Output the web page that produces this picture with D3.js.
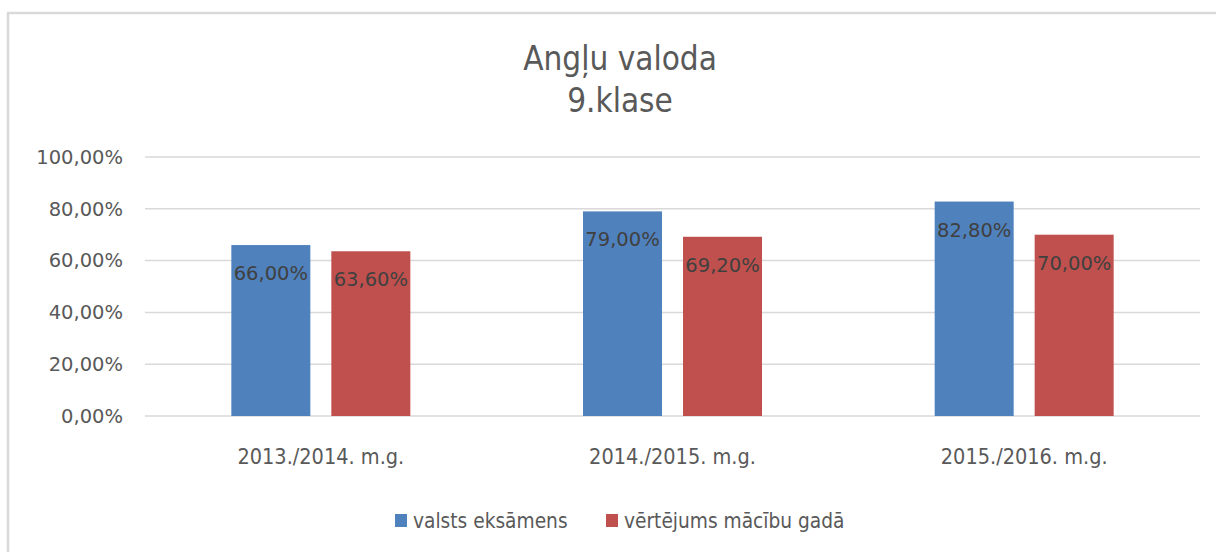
<!DOCTYPE html>
<html>
<head>
<meta charset="utf-8">
<script src="https://cdn.jsdelivr.net/npm/d3@7"></script>
<style>
  html, body { margin: 0; padding: 0; background: #fff; }
  svg { display: block; }
</style>
</head>
<body>
<svg id="chart" width="1216" height="552"></svg>
<script>
const titleLines = ["Angļu valoda", "9.klase"];
const categories = ["2013./2014. m.g.", "2014./2015. m.g.", "2015./2016. m.g."];
const seriesNames = ["valsts eksāmens", "vērtējums mācību gadā"];
const valstsEksamens = [66.0, 79.0, 82.8];
const vertejumsGada = [63.6, 69.2, 70.0];
const yTicks = [0, 20, 40, 60, 80, 100];
const colors = ["#4F81BD", "#C0504D"];

const seriesValues = [valstsEksamens, vertejumsGada];
const fmt = v => v.toFixed(2).replace(".", ",") + "%";

const svg = d3.select("#chart");

// outer chart border
svg.append("rect").attr("x", 8).attr("y", 13).attr("width", 1300).attr("height", 700)
  .attr("fill", "#fff").attr("stroke", "#d9d9d9").attr("stroke-width", 2.5);

const plot = { left: 145, right: 1200, top: 157, bottom: 416 };

const x0 = d3.scaleBand().domain(categories).range([plot.left, plot.right]).paddingInner(0).paddingOuter(0);
const x1 = d3.scaleBand().domain(seriesNames).range([-89.5, 89.5]).paddingInner(0.21).paddingOuter(0);
const y = d3.scaleLinear().domain([0, 100]).range([plot.bottom, plot.top]);

const condensed = "'DejaVu Sans Condensed', 'DejaVu Sans'";

// title
svg.append("g").selectAll("text").data(titleLines).join("text")
  .attr("x", 620).attr("y", (d, i) => 70 + i * 42)
  .attr("text-anchor", "middle")
  .attr("font-family", condensed).attr("font-stretch", "condensed")
  .attr("font-size", 33).attr("fill", "#595959")
  .text(d => d);

// gridlines
svg.append("g").selectAll("line").data(yTicks).join("line")
  .attr("x1", plot.left).attr("x2", plot.right)
  .attr("y1", d => y(d)).attr("y2", d => y(d))
  .attr("stroke", "#d9d9d9").attr("stroke-width", 1.5);

// y axis
const yAxis = svg.append("g").attr("transform", `translate(${plot.left},0)`)
  .call(d3.axisLeft(y).tickValues(yTicks).tickSize(0).tickPadding(22).tickFormat(fmt));
yAxis.select(".domain").remove();
yAxis.selectAll("text").attr("font-family", "'DejaVu Sans', Verdana").attr("font-size", 19.5)
  .attr("fill", "#595959");

// x axis labels
const xAxis = svg.append("g").attr("transform", `translate(0,${plot.bottom})`)
  .call(d3.axisBottom(x0).tickSize(0).tickPadding(33));
xAxis.select(".domain").remove();
xAxis.selectAll("text").attr("font-family", condensed)
  .attr("font-stretch", "condensed").attr("font-size", 21.5).attr("fill", "#595959");

// bars
const groups = svg.append("g").selectAll("g").data(categories).join("g")
  .attr("transform", d => `translate(${x0(d) + x0.bandwidth() / 2},0)`);

groups.each(function(cat, ci) {
  const g = d3.select(this);
  const items = seriesNames.map((s, si) => ({ s, si, v: seriesValues[si][ci] }));
  g.selectAll("rect").data(items).join("rect")
    .attr("x", d => x1(d.s)).attr("width", x1.bandwidth())
    .attr("y", d => y(d.v)).attr("height", d => y(0) - y(d.v))
    .attr("fill", d => colors[d.si]);
  g.selectAll("text").data(items).join("text")
    .attr("x", d => x1(d.s) + x1.bandwidth() / 2)
    .attr("y", d => y(d.v) + 35)
    .attr("text-anchor", "middle")
    .attr("font-family", "'DejaVu Sans', Verdana").attr("font-size", 19.5)
    .attr("fill", "#404040")
    .text(d => fmt(d.v));
});

// legend
const legendX = [395, 606];
const lg = svg.append("g").selectAll("g").data(seriesNames).join("g")
  .attr("transform", (d, i) => `translate(${legendX[i]},514)`);
lg.append("rect").attr("width", 12).attr("height", 13).attr("fill", (d, i) => colors[i]);
lg.append("text").attr("x", 18).attr("y", 14)
  .attr("font-family", condensed).attr("font-stretch", "condensed")
  .attr("font-size", 20.7).attr("fill", "#595959")
  .text(d => d);
</script>
</body>
</html>
